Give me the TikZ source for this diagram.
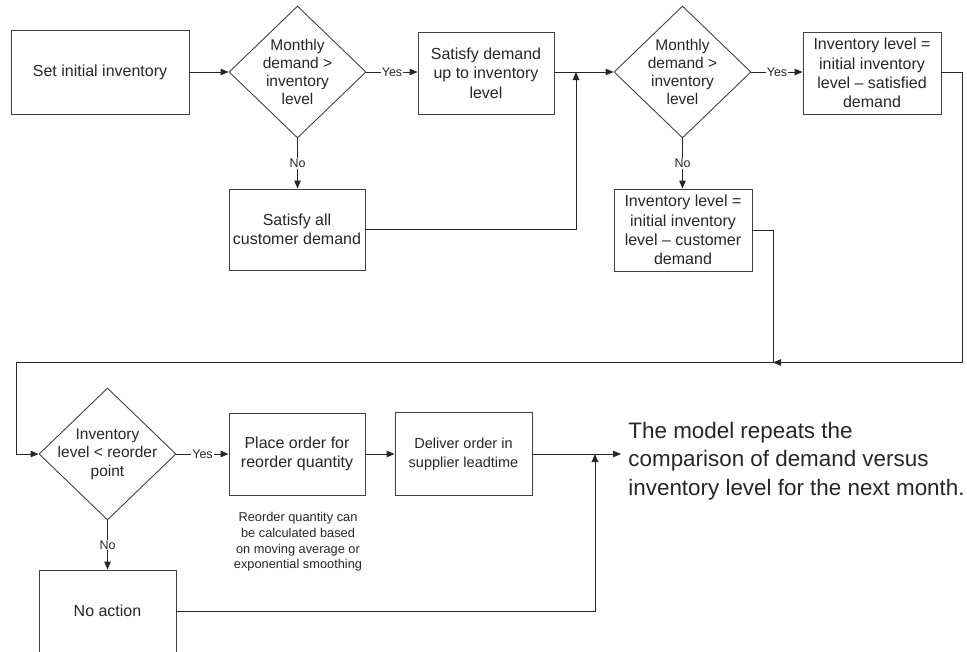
\documentclass[tikz,border=0pt]{standalone}
\usepackage{fontspec}
\setmainfont{Liberation Sans}
\usetikzlibrary{arrows.meta,shapes.geometric}
\begin{document}
\begin{tikzpicture}[x=1pt,y=-1pt,
  line width=0.9pt,
  every node/.style={text=black!85},
  box/.style={draw=black!75, rectangle, inner sep=0pt, align=center, font=\fontsize{16}{19.4}\selectfont},
  dia/.style={draw=black!75, diamond, inner sep=0pt, minimum width=137pt, minimum height=132pt},
  dtext/.style={align=center, inner sep=0pt, font=\fontsize{15.5}{18.3}\selectfont},
  lab/.style={fill=white, inner sep=1pt, font=\fontsize{12.5}{14}\selectfont},
  conn/.style={draw=black!85, -{Triangle[length=8pt,width=6.5pt]}},
  plain/.style={draw=black!85}
]
\useasboundingbox (0,0) rectangle (967,651);

% top row
\node[box, minimum width=178pt, minimum height=84pt] (b1) at (100,72) {Set initial inventory};
\node[dia] (d1) at (297.5,72) {};
\node[dtext] (d1t) at (d1.center) {Monthly\\demand >\\inventory\\level};
\node[box, minimum width=136pt, minimum height=82pt] (b2) at (486,73) {Satisfy demand\\up to inventory\\level};
\node[box, minimum width=136pt, minimum height=81pt] (b2n) at (297,229.5) {Satisfy all\\customer demand};
\coordinate (j1) at (576,72);
\node[dia] (d2) at (682.5,72) {};
\node[dtext] (d2t) at (d2.center) {Monthly\\demand >\\inventory\\level};
\node[box, minimum width=138pt, minimum height=82pt] (b3) at (872,73) {Inventory level =\\initial inventory\\level – satisfied\\demand};
\node[box, minimum width=138pt, minimum height=82pt] (b4) at (683,230) {Inventory level =\\initial inventory\\level – customer\\demand};

\coordinate (c3) at (962,362.5);
\coordinate (m1) at (773,362.5);
\coordinate (c5) at (16,454);

% bottom row
\node[dia] (d3) at (107.5,454) {};
\node[dtext] (d3t) at (d3.center) {Inventory\\level < reorder\\point};
\node[box, minimum width=136pt, minimum height=82pt] (b5) at (297,454) {Place order for\\reorder quantity};
\node[box, minimum width=137pt, minimum height=83pt, font=\fontsize{14.5}{18.5}\selectfont] (b6) at (463.5,454) {Deliver order in\\supplier leadtime};
\coordinate (j2) at (595,454);
\node[box, minimum width=137pt, minimum height=82pt] (b7) at (107.5,611) {No action};
\node[align=center, inner sep=0pt, font=\fontsize{12.8}{15.7}\selectfont] (note1) at (298,542) {Reorder quantity can\\be calculated based\\on moving average or\\exponential smoothing};
\node[anchor=west, align=left, inner sep=0pt, inner xsep=7pt, font=\fontsize{22.4}{28.5}\selectfont] (note2) at (621,461) {The model repeats the\\comparison of demand versus\\inventory level for the next month.};

% connectors
\draw[conn] (b1.east) -- (d1.west);
\draw[conn] (d1.east) -- node[lab]{Yes} (b2.west |- d1.east);
\draw[conn] (d1.south) -- node[lab]{No} (b2n.north -| d1.south);
\draw[conn] (b2.east |- j1) -- (d2.west);
\draw[conn] (b2n.east) -| (j1);
\draw[conn] (d2.east) -- node[lab]{Yes} (b3.west |- d2.east);
\draw[conn] (d2.south) -- node[lab]{No} (b4.north -| d2.south);
\draw[conn] (b3.east |- d2.east) -| (c3) -- (m1);
\draw[conn] (b4.east) -| (m1) -| (c5) -- (d3.west);
\draw[conn] (d3.east) -- node[lab]{Yes} (b5.west);
\draw[conn] (b5.east) -- (b6.west);
\draw[conn] (d3.south) -- node[lab]{No} (b7.north);
\draw[conn] (b6.east) -- (b6.east -| note2.west);
\draw[conn] (b7.east) -| (j2);
\end{tikzpicture}
\end{document}
